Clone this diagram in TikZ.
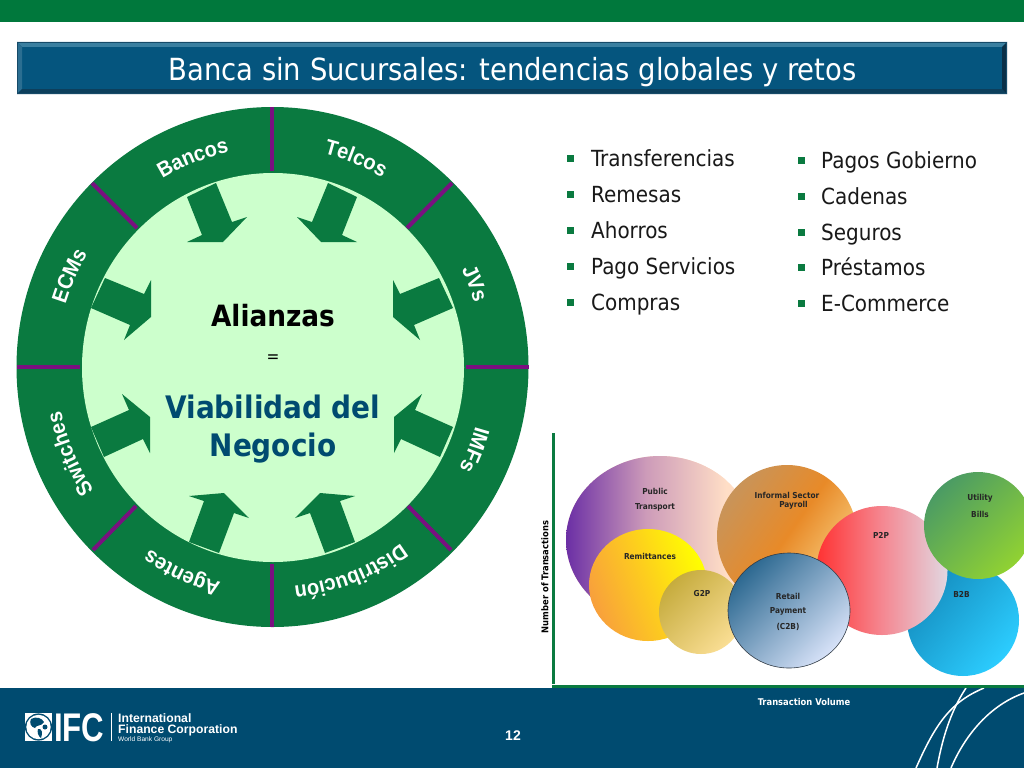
\documentclass[tikz,border=0pt]{standalone}
\usepackage{fontspec}
\usetikzlibrary{decorations.text}
\setmainfont{DejaVu Sans Condensed}
\newfontfamily\arialf{Liberation Sans}
\newfontfamily\labf[FakeStretch=0.93]{Liberation Sans}
\newcommand{\fsz}[1]{\fontsize{#1}{#1}\selectfont}
\definecolor{topgreen}{HTML}{00783C}
\definecolor{ring}{HTML}{0A7A40}
\definecolor{inner}{HTML}{CCFFCC}
\definecolor{purp}{HTML}{7A1080}
\definecolor{navy}{HTML}{004B70}
\definecolor{bar}{HTML}{05557E}
\definecolor{barhi}{HTML}{3A7FA0}
\definecolor{barlo}{HTML}{0D3F5C}
\definecolor{bardk}{HTML}{0A2F47}
\definecolor{barln}{HTML}{164A68}
\definecolor{puba}{RGB}{107,47,165}\definecolor{pubb}{RGB}{205,155,185}\definecolor{pubc}{RGB}{255,222,198}
\definecolor{rema}{RGB}{248,160,60}\definecolor{remb}{RGB}{253,205,30}\definecolor{remc}{RGB}{255,255,0}
\definecolor{gtpa}{RGB}{198,172,62}\definecolor{gtpb}{RGB}{250,222,148}
\definecolor{infa}{RGB}{200,148,90}\definecolor{infb}{RGB}{232,138,40}\definecolor{infc}{RGB}{250,212,135}
\definecolor{btba}{RGB}{20,140,190}\definecolor{btbb}{RGB}{44,205,255}
\definecolor{ptpa}{RGB}{255,50,50}\definecolor{ptpb}{RGB}{245,135,145}\definecolor{ptpc}{RGB}{225,215,225}
\definecolor{utia}{RGB}{75,155,100}\definecolor{utib}{RGB}{145,210,50}
\definecolor{reta}{RGB}{45,105,145}\definecolor{retb}{RGB}{215,226,248}\definecolor{retl}{RGB}{50,60,70}
\newcommand{\lab}{\labf\bfseries\fsz{21.5}\color{white}}
\newcommand{\arclab}[5]{\path[decorate,decoration={text along path,text align=center,text={|\lab|#5}}] plot[domain=#1:#2,samples=50] ({272.5+#3*cos(\x)},{367-#4*sin(\x)});}
\tikzset{
  bub/.style={font=\bfseries\fsz{8.2},text=black!85,inner sep=0pt,anchor=center},
  item/.style={font=\fsz{22.2},text=black!90,anchor=base west,inner sep=0pt},
  sq/.style={fill=ring},
  arrowpoly/.style={fill=ring},
  divider/.style={draw=purp,line width=4pt},
  swirl/.style={draw=white,line width=1.5pt}
}
\begin{document}
\begin{tikzpicture}[x=1pt,y=-1pt]
\useasboundingbox (0,0) rectangle (1024,768);
\clip (0,0) rectangle (1024,768);
\fill[white] (0,0) rectangle (1024,768);
\fill[topgreen] (0,0) rectangle (1024,22);
% title bar
\fill[bar] (17,42) rectangle (1007,94);
\fill[barhi] (17,42) -- (1007,42) -- (1002,47) -- (22,47) -- cycle;
\fill[bar!85!white] (17,42) -- (22,47) -- (22,89) -- (17,94) -- cycle;
\fill[barlo] (17,94) -- (1007,94) -- (1002,89) -- (22,89) -- cycle;
\fill[bardk] (1007,42) -- (1007,94) -- (1002,89) -- (1002,47) -- cycle;
\draw[barln,line width=0.8pt] (17.4,42.4) rectangle (1006.6,93.6);
\node[font=\fsz{30.5},text=white,inner sep=0pt,anchor=base] (title) at (512.5,80.5) {Banca sin Sucursales: tendencias globales y retos};
% wheel
\fill[ring] (272.5,367) ellipse [x radius=256,y radius=260];
\fill[inner] (273,367.5) ellipse [x radius=191,y radius=194.5];
\foreach \a/\b/\c/\d in {272/107/272/171, 272/564/272/627, 17/367/80/367, 466/367/529/367, 92/183/137/228, 452/183/407/228, 93/550/136/506, 451/550/408/506}
  \draw[divider] (\a,\b) -- (\c,\d);
% arrows
\fill[arrowpoly] (187,197) -- (216,183) -- (232,222) -- (247,217) -- (223,242) -- (187,242) -- (202,235) -- cycle;
\fill[arrowpoly] (357,197) -- (328,183) -- (312,222) -- (297,217) -- (321,242) -- (357,242) -- (342,235) -- cycle;
\fill[arrowpoly] (105,278) -- (144,294) -- (151,280) -- (151,317) -- (124,340) -- (130,325) -- (91,308) -- cycle;
\fill[arrowpoly] (439,278) -- (400,294) -- (393,280) -- (393,317) -- (420,340) -- (414,325) -- (453,308) -- cycle;
\fill[arrowpoly] (91,427) -- (129,410) -- (122,394) -- (150,417) -- (150,453) -- (143,439) -- (104,457) -- cycle;
\fill[arrowpoly] (453,427) -- (415,410) -- (422,394) -- (394,417) -- (394,453) -- (401,439) -- (440,457) -- cycle;
\fill[arrowpoly] (189,542) -- (204,501) -- (189,496) -- (224,493) -- (249,518) -- (234,513) -- (219,553) -- cycle;
\fill[arrowpoly] (355,542) -- (340,501) -- (355,496) -- (320,493) -- (295,518) -- (310,513) -- (325,553) -- cycle;
% ring labels
\arclab{151}{71}{216}{219}{Bancos}
\arclab{108}{28}{216}{220}{Telcos}
\arclab{62}{-18}{211}{219}{JVs}
\arclab{18}{-62}{211}{219}{IMFs}
\arclab{-29}{-109}{216}{220}{Distribución}
\arclab{-74}{-154}{216}{222}{Agentes}
\arclab{243}{163}{216}{219}{Switches}
\arclab{196}{116}{216}{219}{ECMs}
% centre text
\node[font=\bfseries\fsz{29.3},text=black,inner sep=0pt,anchor=base] (ali) at (273,326) {Alianzas};
\node[font=\fsz{17},text=black,inner sep=0pt,anchor=base] (eq) at (273,362) {=};
\node[font=\bfseries\fsz{31},text=navy,inner sep=0pt,anchor=base] (via1) at (273,418) {Viabilidad del};
\node[font=\bfseries\fsz{31},text=navy,inner sep=0pt,anchor=base] (via2) at (273,456) {Negocio};
% lists
\foreach \y/\t [count=\i] in {166/Transferencias,202/Remesas,238/Ahorros,274/Pago Servicios,310/Compras}{
  \fill[sq] (567,\y-11.5) rectangle (574,\y-4.5);
  \node[item] (la\i) at (591,\y) {\t};
}
\foreach \y/\t [count=\i] in {168/Pagos Gobierno,204/Cadenas,240/Seguros,275/Préstamos,311/E-Commerce}{
  \fill[sq] (798,\y-11.5) rectangle (804.5,\y-4.5);
  \node[item] (lb\i) at (821,\y) {\t};
}
% bubbles
\fill[pubc] (660,540) ellipse [x radius=94,y radius=84];
\begin{scope}
\clip (660,540) ellipse [x radius=94,y radius=84];
\shade[left color=puba,right color=pubc,middle color=pubb,shading angle=90] (566,450) rectangle (726,630);
\end{scope}
\shade[left color=rema,right color=remc,middle color=remb,shading angle=110] (648,585) ellipse [x radius=59,y radius=56];
\shade[left color=gtpa,right color=gtpb,shading angle=45] (701,612) circle [radius=42];
\shade[left color=infa,right color=infc,middle color=infb,shading angle=55] (787,536) ellipse [x radius=70,y radius=71];
\shade[left color=btba,right color=btbb,shading angle=50] (963,620) ellipse [x radius=56,y radius=56];
\shade[left color=ptpa,right color=ptpc,middle color=ptpb,shading angle=90] (882,570.5) ellipse [x radius=65.5,y radius=64.5];
\shade[left color=utia,right color=utib,shading angle=45] (978,525.5) ellipse [x radius=54,y radius=53.5];
\shade[draw=retl,line width=0.6pt,left color=reta,right color=retb,shading angle=45] (789,610.5) ellipse [x radius=61,y radius=57.5];
% bubble labels
\node[bub] (b1) at (655,491.5) {Public};
\node[bub] (b2) at (655,507) {Transport};
\node[bub] (b3) at (650,556) {Remittances};
\node[bub] (b4) at (702,593.5) {G2P};
\node[bub] (b5) at (787,495) {Informal Sector};
\node[bub] (b6) at (793.5,505.5) {Payroll};
\node[bub] (b7) at (881,535.5) {P2P};
\node[bub] (b8) at (980,498.5) {Utility};
\node[bub] (b9) at (980,514) {Bills};
\node[bub] (b10) at (961.5,594) {B2B};
\node[bub] (b11) at (788,596) {Retail};
\node[bub] (b12) at (788,611) {Payment};
\node[bub] (b13) at (788,626.5) {(C2B)};
% footer
\fill[navy] (0,688) rectangle (1024,768);
\draw[swirl] (984,688) .. controls (950,702) and (935,725) .. (916,768);
\draw[swirl] (966,688) .. controls (950,712) and (942,740) .. (937,768);
\draw[swirl] (1024,693) .. controls (990,705) and (965,735) .. (951,768);
% axes
\fill[ring] (552,433) rectangle (555,684);
\fill[ring] (552,684.5) rectangle (1024,688);
\node[font=\bfseries\fsz{9.3},text=black,rotate=90,inner sep=0pt] (ylab) at (545,577) {Number of Transactions};
\node[font=\bfseries\fsz{9.3},text=white,inner sep=0pt] (xlab) at (804,702.5) {Transaction Volume};
% logo
\fill[white] (25,713) rectangle (52,741);
\fill[navy] (38.5,727) circle [radius=13.6];
\fill[white] (38.5,727) circle [radius=12.2];
\fill[navy] (31,719) .. controls (36,716) and (42,718) .. (44,722) .. controls (41,727) and (37,724) .. (35,728) .. controls (31,727) and (29,723) .. cycle;
\fill[navy] (38,729) .. controls (42,728) and (43,733) .. (41,738) .. controls (38,736) and (37,732) .. cycle;
\fill[navy] (45,727) circle [radius=2.5];
\node[font=\arialf\bfseries\fsz{40},text=white,inner sep=0pt,anchor=base west,xscale=0.78] (ifc) at (54,741) {IFC};
\draw[white,line width=0.7pt] (111,713) -- (111,741);
\node[font=\arialf\bfseries\fsz{12.2},text=white,inner sep=0pt,anchor=base west] (ifc1) at (118,722) {International};
\node[font=\arialf\bfseries\fsz{12.2},text=white,inner sep=0pt,anchor=base west] (ifc2) at (118,733) {Finance Corporation};
\node[font=\arialf\fsz{6.6},text=white,inner sep=0pt,anchor=base west] (ifc3) at (118,741.5) {World Bank Group};
\node[font=\arialf\bfseries\fsz{14},text=white,inner sep=0pt] (pg) at (513,736) {12};
\end{tikzpicture}
\end{document}
